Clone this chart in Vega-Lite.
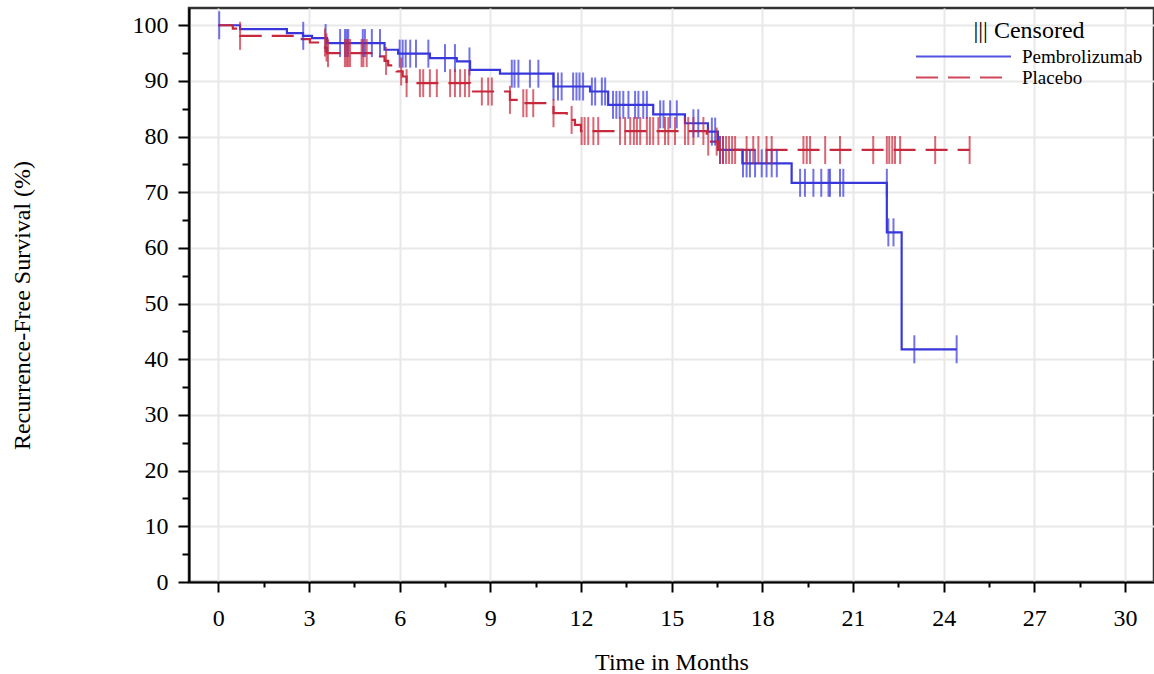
{
  "$schema": "https://vega.github.io/schema/vega-lite/v6.json",
  "width": 965,
  "height": 574,
  "autosize": {"type": "none"},
  "padding": {"left": 189, "top": 8, "right": 0, "bottom": 92},
  "background": "white",
  "config": {
    "font": "Liberation Serif",
    "view": {"stroke": "#333333", "strokeWidth": 2.5},
    "legend": {
      "orient": "none",
      "legendX": 726,
      "legendY": 11,
      "symbolType": "stroke",
      "symbolSize": 9025,
      "symbolStrokeWidth": 2,
      "symbolOpacity": 0.85,
      "clipHeight": 21,
      "rowPadding": 0,
      "labelFont": "Liberation Serif",
      "labelFontSize": 19,
      "labelColor": "#000000",
      "labelOffset": 10,
      "titleFont": "Liberation Serif",
      "titleFontSize": 24,
      "titleFontWeight": "normal",
      "titleColor": "#000000",
      "titleAnchor": "middle",
      "titlePadding": 3
    }
  },
  "datasets": {
    "curves": [
      {"arm": "Pembrolizumab", "month": 0, "rfs": 100},
      {"arm": "Pembrolizumab", "month": 0.72, "rfs": 99.3},
      {"arm": "Pembrolizumab", "month": 2.27, "rfs": 98.6},
      {"arm": "Pembrolizumab", "month": 2.8, "rfs": 98.1},
      {"arm": "Pembrolizumab", "month": 3.1, "rfs": 97.7},
      {"arm": "Pembrolizumab", "month": 3.6, "rfs": 96.8},
      {"arm": "Pembrolizumab", "month": 5.5, "rfs": 95.6},
      {"arm": "Pembrolizumab", "month": 5.95, "rfs": 94.9},
      {"arm": "Pembrolizumab", "month": 7.0, "rfs": 94.1},
      {"arm": "Pembrolizumab", "month": 7.89, "rfs": 93.5},
      {"arm": "Pembrolizumab", "month": 8.33, "rfs": 92.0},
      {"arm": "Pembrolizumab", "month": 9.32, "rfs": 91.3},
      {"arm": "Pembrolizumab", "month": 11.09, "rfs": 89.0},
      {"arm": "Pembrolizumab", "month": 12.3, "rfs": 88.1},
      {"arm": "Pembrolizumab", "month": 12.9, "rfs": 85.7},
      {"arm": "Pembrolizumab", "month": 14.39, "rfs": 84.0},
      {"arm": "Pembrolizumab", "month": 15.44, "rfs": 82.4},
      {"arm": "Pembrolizumab", "month": 16.2, "rfs": 80.9},
      {"arm": "Pembrolizumab", "month": 16.53, "rfs": 77.6},
      {"arm": "Pembrolizumab", "month": 17.34, "rfs": 75.2},
      {"arm": "Pembrolizumab", "month": 18.97, "rfs": 71.7},
      {"arm": "Pembrolizumab", "month": 22.12, "rfs": 62.8},
      {"arm": "Pembrolizumab", "month": 22.61, "rfs": 41.8},
      {"arm": "Pembrolizumab", "month": 24.43, "rfs": 41.8},
      {"arm": "Placebo", "month": 0, "rfs": 100},
      {"arm": "Placebo", "month": 0.48, "rfs": 99.4},
      {"arm": "Placebo", "month": 0.72, "rfs": 98.1},
      {"arm": "Placebo", "month": 2.76, "rfs": 97.5},
      {"arm": "Placebo", "month": 3.03, "rfs": 96.9},
      {"arm": "Placebo", "month": 3.53, "rfs": 96.0},
      {"arm": "Placebo", "month": 3.6, "rfs": 95.0},
      {"arm": "Placebo", "month": 5.35, "rfs": 94.4},
      {"arm": "Placebo", "month": 5.5, "rfs": 93.6},
      {"arm": "Placebo", "month": 5.62, "rfs": 92.8},
      {"arm": "Placebo", "month": 5.9, "rfs": 91.7},
      {"arm": "Placebo", "month": 6.1, "rfs": 90.8},
      {"arm": "Placebo", "month": 6.23, "rfs": 89.6},
      {"arm": "Placebo", "month": 8.33, "rfs": 88.1},
      {"arm": "Placebo", "month": 9.65, "rfs": 86.6},
      {"arm": "Placebo", "month": 9.98, "rfs": 86.0},
      {"arm": "Placebo", "month": 11.09, "rfs": 84.2},
      {"arm": "Placebo", "month": 11.53, "rfs": 83.0},
      {"arm": "Placebo", "month": 11.8, "rfs": 82.1},
      {"arm": "Placebo", "month": 12.0, "rfs": 81.0},
      {"arm": "Placebo", "month": 16.16, "rfs": 79.1},
      {"arm": "Placebo", "month": 16.55, "rfs": 77.6},
      {"arm": "Placebo", "month": 24.86, "rfs": 77.6}
    ],
    "censor": [
      {"arm": "Pembrolizumab", "month": 0.03, "rfs": 100},
      {"arm": "Pembrolizumab", "month": 2.81, "rfs": 98.1},
      {"arm": "Pembrolizumab", "month": 3.55, "rfs": 97.7},
      {"arm": "Pembrolizumab", "month": 4.03, "rfs": 96.8},
      {"arm": "Pembrolizumab", "month": 4.19, "rfs": 96.8},
      {"arm": "Pembrolizumab", "month": 4.25, "rfs": 96.8},
      {"arm": "Pembrolizumab", "month": 4.3, "rfs": 96.8},
      {"arm": "Pembrolizumab", "month": 4.78, "rfs": 96.8},
      {"arm": "Pembrolizumab", "month": 4.85, "rfs": 96.8},
      {"arm": "Pembrolizumab", "month": 5.08, "rfs": 96.8},
      {"arm": "Pembrolizumab", "month": 5.35, "rfs": 96.8},
      {"arm": "Pembrolizumab", "month": 6.0, "rfs": 94.9},
      {"arm": "Pembrolizumab", "month": 6.1, "rfs": 94.9},
      {"arm": "Pembrolizumab", "month": 6.2, "rfs": 94.9},
      {"arm": "Pembrolizumab", "month": 6.35, "rfs": 94.9},
      {"arm": "Pembrolizumab", "month": 6.54, "rfs": 94.9},
      {"arm": "Pembrolizumab", "month": 6.95, "rfs": 94.9},
      {"arm": "Pembrolizumab", "month": 7.5, "rfs": 94.1},
      {"arm": "Pembrolizumab", "month": 7.83, "rfs": 94.1},
      {"arm": "Pembrolizumab", "month": 8.31, "rfs": 93.5},
      {"arm": "Pembrolizumab", "month": 9.71, "rfs": 91.3},
      {"arm": "Pembrolizumab", "month": 9.8, "rfs": 91.3},
      {"arm": "Pembrolizumab", "month": 9.93, "rfs": 91.3},
      {"arm": "Pembrolizumab", "month": 10.31, "rfs": 91.3},
      {"arm": "Pembrolizumab", "month": 10.59, "rfs": 91.3},
      {"arm": "Pembrolizumab", "month": 11.09, "rfs": 89.0},
      {"arm": "Pembrolizumab", "month": 11.24, "rfs": 89.0},
      {"arm": "Pembrolizumab", "month": 11.36, "rfs": 89.0},
      {"arm": "Pembrolizumab", "month": 11.74, "rfs": 89.0},
      {"arm": "Pembrolizumab", "month": 11.85, "rfs": 89.0},
      {"arm": "Pembrolizumab", "month": 11.95, "rfs": 89.0},
      {"arm": "Pembrolizumab", "month": 12.07, "rfs": 89.0},
      {"arm": "Pembrolizumab", "month": 12.36, "rfs": 88.1},
      {"arm": "Pembrolizumab", "month": 12.47, "rfs": 88.1},
      {"arm": "Pembrolizumab", "month": 12.69, "rfs": 88.1},
      {"arm": "Pembrolizumab", "month": 12.8, "rfs": 88.1},
      {"arm": "Pembrolizumab", "month": 13.06, "rfs": 85.7},
      {"arm": "Pembrolizumab", "month": 13.17, "rfs": 85.7},
      {"arm": "Pembrolizumab", "month": 13.28, "rfs": 85.7},
      {"arm": "Pembrolizumab", "month": 13.4, "rfs": 85.7},
      {"arm": "Pembrolizumab", "month": 13.57, "rfs": 85.7},
      {"arm": "Pembrolizumab", "month": 13.79, "rfs": 85.7},
      {"arm": "Pembrolizumab", "month": 13.9, "rfs": 85.7},
      {"arm": "Pembrolizumab", "month": 14.06, "rfs": 85.7},
      {"arm": "Pembrolizumab", "month": 14.18, "rfs": 85.7},
      {"arm": "Pembrolizumab", "month": 14.62, "rfs": 84.0},
      {"arm": "Pembrolizumab", "month": 14.73, "rfs": 84.0},
      {"arm": "Pembrolizumab", "month": 14.95, "rfs": 84.0},
      {"arm": "Pembrolizumab", "month": 15.17, "rfs": 84.0},
      {"arm": "Pembrolizumab", "month": 15.72, "rfs": 82.4},
      {"arm": "Pembrolizumab", "month": 15.88, "rfs": 82.4},
      {"arm": "Pembrolizumab", "month": 16.33, "rfs": 80.9},
      {"arm": "Pembrolizumab", "month": 16.44, "rfs": 80.9},
      {"arm": "Pembrolizumab", "month": 16.6, "rfs": 77.6},
      {"arm": "Pembrolizumab", "month": 16.7, "rfs": 77.6},
      {"arm": "Pembrolizumab", "month": 17.36, "rfs": 75.2},
      {"arm": "Pembrolizumab", "month": 17.48, "rfs": 75.2},
      {"arm": "Pembrolizumab", "month": 17.59, "rfs": 75.2},
      {"arm": "Pembrolizumab", "month": 17.76, "rfs": 75.2},
      {"arm": "Pembrolizumab", "month": 17.98, "rfs": 75.2},
      {"arm": "Pembrolizumab", "month": 18.14, "rfs": 75.2},
      {"arm": "Pembrolizumab", "month": 18.31, "rfs": 75.2},
      {"arm": "Pembrolizumab", "month": 18.48, "rfs": 75.2},
      {"arm": "Pembrolizumab", "month": 19.25, "rfs": 71.7},
      {"arm": "Pembrolizumab", "month": 19.41, "rfs": 71.7},
      {"arm": "Pembrolizumab", "month": 19.69, "rfs": 71.7},
      {"arm": "Pembrolizumab", "month": 19.95, "rfs": 71.7},
      {"arm": "Pembrolizumab", "month": 20.19, "rfs": 71.7},
      {"arm": "Pembrolizumab", "month": 20.24, "rfs": 71.7},
      {"arm": "Pembrolizumab", "month": 20.57, "rfs": 71.7},
      {"arm": "Pembrolizumab", "month": 20.68, "rfs": 71.7},
      {"arm": "Pembrolizumab", "month": 22.12, "rfs": 71.7},
      {"arm": "Pembrolizumab", "month": 22.17, "rfs": 62.8},
      {"arm": "Pembrolizumab", "month": 22.34, "rfs": 62.8},
      {"arm": "Pembrolizumab", "month": 23.03, "rfs": 41.8},
      {"arm": "Pembrolizumab", "month": 24.43, "rfs": 41.8},
      {"arm": "Placebo", "month": 0.72, "rfs": 98.1},
      {"arm": "Placebo", "month": 3.53, "rfs": 96.9},
      {"arm": "Placebo", "month": 3.58, "rfs": 96.0},
      {"arm": "Placebo", "month": 3.63, "rfs": 95.0},
      {"arm": "Placebo", "month": 4.19, "rfs": 95.0},
      {"arm": "Placebo", "month": 4.25, "rfs": 95.0},
      {"arm": "Placebo", "month": 4.3, "rfs": 95.0},
      {"arm": "Placebo", "month": 4.36, "rfs": 95.0},
      {"arm": "Placebo", "month": 4.74, "rfs": 95.0},
      {"arm": "Placebo", "month": 4.8, "rfs": 95.0},
      {"arm": "Placebo", "month": 4.91, "rfs": 95.0},
      {"arm": "Placebo", "month": 5.55, "rfs": 93.6},
      {"arm": "Placebo", "month": 6.05, "rfs": 91.7},
      {"arm": "Placebo", "month": 6.23, "rfs": 89.6},
      {"arm": "Placebo", "month": 6.67, "rfs": 89.6},
      {"arm": "Placebo", "month": 6.78, "rfs": 89.6},
      {"arm": "Placebo", "month": 7.0, "rfs": 89.6},
      {"arm": "Placebo", "month": 7.23, "rfs": 89.6},
      {"arm": "Placebo", "month": 7.67, "rfs": 89.6},
      {"arm": "Placebo", "month": 7.83, "rfs": 89.6},
      {"arm": "Placebo", "month": 8.0, "rfs": 89.6},
      {"arm": "Placebo", "month": 8.16, "rfs": 89.6},
      {"arm": "Placebo", "month": 8.3, "rfs": 89.6},
      {"arm": "Placebo", "month": 8.72, "rfs": 88.1},
      {"arm": "Placebo", "month": 8.93, "rfs": 88.1},
      {"arm": "Placebo", "month": 9.05, "rfs": 88.1},
      {"arm": "Placebo", "month": 9.65, "rfs": 86.6},
      {"arm": "Placebo", "month": 10.09, "rfs": 86.0},
      {"arm": "Placebo", "month": 10.2, "rfs": 86.0},
      {"arm": "Placebo", "month": 10.42, "rfs": 86.0},
      {"arm": "Placebo", "month": 11.09, "rfs": 84.2},
      {"arm": "Placebo", "month": 11.69, "rfs": 83.0},
      {"arm": "Placebo", "month": 12.02, "rfs": 81.0},
      {"arm": "Placebo", "month": 12.12, "rfs": 81.0},
      {"arm": "Placebo", "month": 12.24, "rfs": 81.0},
      {"arm": "Placebo", "month": 12.41, "rfs": 81.0},
      {"arm": "Placebo", "month": 12.57, "rfs": 81.0},
      {"arm": "Placebo", "month": 13.29, "rfs": 81.0},
      {"arm": "Placebo", "month": 13.46, "rfs": 81.0},
      {"arm": "Placebo", "month": 13.63, "rfs": 81.0},
      {"arm": "Placebo", "month": 13.75, "rfs": 81.0},
      {"arm": "Placebo", "month": 13.85, "rfs": 81.0},
      {"arm": "Placebo", "month": 13.96, "rfs": 81.0},
      {"arm": "Placebo", "month": 14.18, "rfs": 81.0},
      {"arm": "Placebo", "month": 14.28, "rfs": 81.0},
      {"arm": "Placebo", "month": 14.39, "rfs": 81.0},
      {"arm": "Placebo", "month": 14.56, "rfs": 81.0},
      {"arm": "Placebo", "month": 14.78, "rfs": 81.0},
      {"arm": "Placebo", "month": 14.89, "rfs": 81.0},
      {"arm": "Placebo", "month": 15.11, "rfs": 81.0},
      {"arm": "Placebo", "month": 15.44, "rfs": 81.0},
      {"arm": "Placebo", "month": 15.55, "rfs": 81.0},
      {"arm": "Placebo", "month": 15.72, "rfs": 81.0},
      {"arm": "Placebo", "month": 16.05, "rfs": 81.0},
      {"arm": "Placebo", "month": 16.21, "rfs": 79.1},
      {"arm": "Placebo", "month": 16.49, "rfs": 79.1},
      {"arm": "Placebo", "month": 16.6, "rfs": 77.6},
      {"arm": "Placebo", "month": 16.7, "rfs": 77.6},
      {"arm": "Placebo", "month": 16.8, "rfs": 77.6},
      {"arm": "Placebo", "month": 16.9, "rfs": 77.6},
      {"arm": "Placebo", "month": 17.0, "rfs": 77.6},
      {"arm": "Placebo", "month": 17.1, "rfs": 77.6},
      {"arm": "Placebo", "month": 17.48, "rfs": 77.6},
      {"arm": "Placebo", "month": 17.7, "rfs": 77.6},
      {"arm": "Placebo", "month": 17.87, "rfs": 77.6},
      {"arm": "Placebo", "month": 18.14, "rfs": 77.6},
      {"arm": "Placebo", "month": 18.31, "rfs": 77.6},
      {"arm": "Placebo", "month": 19.36, "rfs": 77.6},
      {"arm": "Placebo", "month": 19.47, "rfs": 77.6},
      {"arm": "Placebo", "month": 19.58, "rfs": 77.6},
      {"arm": "Placebo", "month": 20.08, "rfs": 77.6},
      {"arm": "Placebo", "month": 20.57, "rfs": 77.6},
      {"arm": "Placebo", "month": 21.67, "rfs": 77.6},
      {"arm": "Placebo", "month": 22.12, "rfs": 77.6},
      {"arm": "Placebo", "month": 22.2, "rfs": 77.6},
      {"arm": "Placebo", "month": 22.3, "rfs": 77.6},
      {"arm": "Placebo", "month": 22.39, "rfs": 77.6},
      {"arm": "Placebo", "month": 22.56, "rfs": 77.6},
      {"arm": "Placebo", "month": 23.72, "rfs": 77.6},
      {"arm": "Placebo", "month": 24.86, "rfs": 77.6}
    ]
  },
  "encoding": {
    "x": {
      "field": "month",
      "type": "quantitative",
      "scale": {"domain": [-0.97, 30.96], "nice": false, "zero": false},
      "axis": {
        "values": [0, 1.5, 3, 4.5, 6, 7.5, 9, 10.5, 12, 13.5, 15, 16.5, 18, 19.5, 21, 22.5, 24, 25.5, 27, 28.5, 30],
        "labelExpr": "datum.value % 3 === 0 ? datum.label : ''",
        "tickSize": {"condition": {"test": "datum.value % 3 === 0", "value": 10}, "value": 5},
        "grid": true,
        "gridColor": "#e8e8e8",
        "gridWidth": 2,
        "gridOpacity": {"condition": {"test": "datum.value % 3 === 0", "value": 1}, "value": 0},
        "domainColor": "#000000",
        "domainWidth": 2,
        "tickColor": "#000000",
        "tickWidth": 2,
        "labelFont": "Liberation Serif",
        "labelFontSize": 24,
        "labelColor": "#000000",
        "labelPadding": 14,
        "labelFlush": false,
        "labelOverlap": false,
        "title": "Time in Months",
        "titleFont": "Liberation Serif",
        "titleFontSize": 24,
        "titleFontWeight": "normal",
        "titleColor": "#000000",
        "titleBaseline": "middle",
        "titleY": 80
      }
    },
    "y": {
      "field": "rfs",
      "type": "quantitative",
      "scale": {"domain": [0, 103.1], "nice": false},
      "axis": {
        "values": [0, 5, 10, 15, 20, 25, 30, 35, 40, 45, 50, 55, 60, 65, 70, 75, 80, 85, 90, 95, 100],
        "labelExpr": "datum.value % 10 === 0 ? datum.label : ''",
        "tickSize": {"condition": {"test": "datum.value % 10 === 0", "value": 11}, "value": 7},
        "grid": true,
        "gridColor": "#e8e8e8",
        "gridWidth": 2,
        "gridOpacity": {"condition": {"test": "datum.value % 10 === 0", "value": 1}, "value": 0},
        "domainColor": "#000000",
        "domainWidth": 2,
        "tickColor": "#000000",
        "tickWidth": 2,
        "labelFont": "Liberation Serif",
        "labelFontSize": 24,
        "labelColor": "#000000",
        "labelPadding": 10,
        "labelFlush": false,
        "labelOverlap": false,
        "title": "Recurrence-Free Survival (%)",
        "titleFont": "Liberation Serif",
        "titleFontSize": 24,
        "titleFontWeight": "normal",
        "titleColor": "#000000",
        "titleAngle": -90,
        "titleAlign": "center",
        "titleBaseline": "middle",
        "titleX": -167,
        "titleY": 297
      }
    }
  },
  "layer": [
    {
      "data": {"name": "curves"},
      "mark": {"type": "line", "interpolate": "step-after", "strokeWidth": 2.2},
      "encoding": {
        "color": {
          "field": "arm",
          "type": "nominal",
          "scale": {"domain": ["Pembrolizumab", "Placebo"], "range": ["#3737dc", "#c8283c"]},
          "legend": {"title": "||| Censored"}
        },
        "strokeDash": {
          "field": "arm",
          "type": "nominal",
          "scale": {"domain": ["Pembrolizumab", "Placebo"], "range": [[1, 0], [22, 10]]},
          "legend": {"title": "||| Censored"}
        }
      }
    },
    {
      "data": {"name": "censor"},
      "mark": {"type": "tick", "orient": "vertical", "size": 28, "thickness": 2, "opacity": 0.7},
      "encoding": {
        "color": {"field": "arm", "type": "nominal", "legend": null}
      }
    }
  ]
}
